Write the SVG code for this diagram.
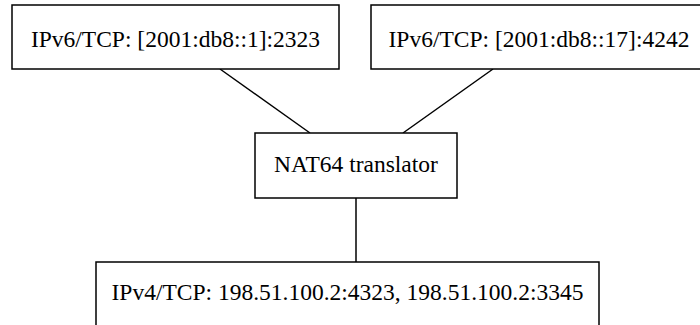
<svg xmlns="http://www.w3.org/2000/svg" width="700" height="325" viewBox="0 0 700 325">
<style>
.box{fill:#fff;stroke:#000;stroke-width:1.5}
.lbl{font-family:"Liberation Serif","Times New Roman",serif;font-size:23.5px;fill:#000;text-anchor:middle}
.edge{stroke:#000;stroke-width:1.5;fill:none}
</style>
<rect width="700" height="325" fill="#fff"/>
<g id="connectors">
<line class="edge" x1="220" y1="69" x2="310" y2="133"/>
<line class="edge" x1="493" y1="69" x2="403" y2="133"/>
<line class="edge" x1="356" y1="198" x2="356" y2="262"/>
</g>
<g id="ipv6a">
<rect class="box" x="12" y="5" width="327" height="64"/>
<text class="lbl" x="175.5" y="47">IPv6/TCP: [2001:db8::1]:2323</text>
</g>
<g id="ipv6b">
<rect class="box" x="371" y="5" width="336" height="64"/>
<text class="lbl" x="539" y="47">IPv6/TCP: [2001:db8::17]:4242</text>
</g>
<g id="nat64">
<rect class="box" x="255" y="133" width="202" height="65"/>
<text class="lbl" x="356" y="172">NAT64 translator</text>
</g>
<g id="ipv4">
<rect class="box" x="96" y="262" width="503" height="70"/>
<text class="lbl" x="347.5" y="300">IPv4/TCP: 198.51.100.2:4323, 198.51.100.2:3345</text>
</g>
</svg>
